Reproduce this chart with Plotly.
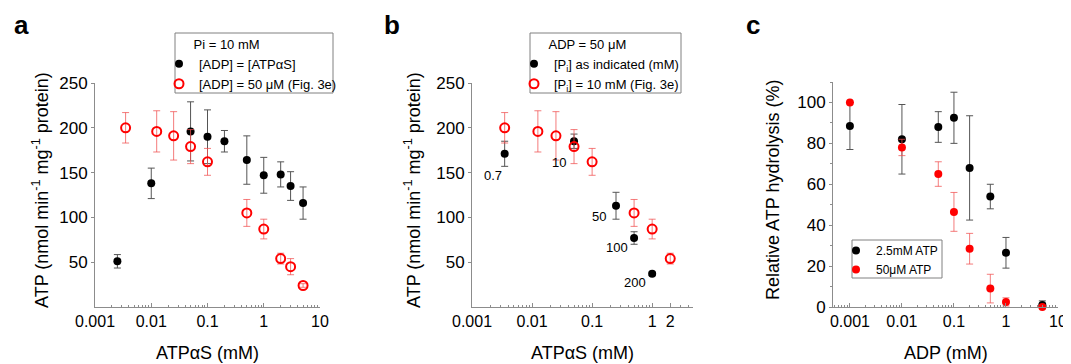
import numpy as np
import plotly.graph_objects as go

FONT = "Arial, Liberation Sans, sans-serif"

# ---------------- Panel a data ----------------
a_black_x = [0.0025, 0.01, 0.05, 0.1, 0.2, 0.5, 1, 2, 3, 5]
a_black_y = [51, 138, 196, 190, 185, 164, 147, 148, 135, 116]
a_black_err = [7.5, 17, 33, 30, 12, 27, 20, 14, 16, 18]

a_red_x = [0.0035, 0.0125, 0.025, 0.05, 0.1, 0.5, 1, 2, 3, 5]
a_red_y = [200, 196, 191, 179, 162, 105, 87, 54, 45, 24]
a_red_err = [17, 23, 27, 19, 15, 15, 11, 6, 9, 2]

# ---------------- Panel b data ----------------
b_black_x = [0.0035, 0.05, 0.25, 0.5, 1]
b_black_y = [171, 185, 113, 77, 37]
b_black_err = [14, 8, 15, 7, 2]
b_black_labels = ["0.7", "10", "50", "100", "200"]

b_red_x = [0.0035, 0.0125, 0.025, 0.05, 0.1, 0.5, 1, 2]
b_red_y = [200, 196, 191, 179, 162, 105, 87, 54]
b_red_err = [17, 23, 27, 19, 15, 15, 11, 6]

# ---------------- Panel c data ----------------
c_x = [0.001, 0.01, 0.05, 0.1, 0.2, 0.5, 1, 5]
c_black_y = [88.5, 82, 88, 92.5, 68, 54, 26.5, 1]
c_black_err = [11.5, 17, 7.5, 12.5, 25.5, 6, 7.5, 2]
c_red_y = [100, 78, 65, 46.5, 28.5, 9, 2.5, 0]
c_red_err = [0, 4, 6, 9.5, 7.5, 7, 2, 0]

a_ticks = [0.001, 0.01, 0.1, 1, 10]
a_ticktext = ["0.001", "0.01", "0.1", "1", "10"]
b_ticks = [0.001, 0.01, 0.1, 1, 2]
b_ticktext = ["0.001", "0.01", "0.1", "1", "2"]
c_ticks = [0.001, 0.01, 0.1, 1, 10]
c_ticktext = ["0.001", "0.01", "0.1", "1", "10"]

BLACK_ERR = "#555555"
RED_ERR = "rgba(240,80,80,0.75)"
AXCOL = "#8c8c8c"
BOXCOL = "#808080"

# page has an 8px body margin; figure spans page pixels 8..1071 and 8..364
OFF = 8
W, H = 1063, 356


def P(X):
    return (X - OFF) / W


def Q(Y):
    return 1 - (Y - OFF) / H


minor_vals = [m * 10.0 ** e for e in range(-4, 2) for m in range(2, 10)]

fig = go.Figure()


def add_pts(x, y, err, xa, ya, color, errcol, open_=False, name="", legend="legend",
            clip=True):
    marker = dict(size=8, color=color)
    if open_:
        marker = dict(size=9, color=color, symbol="circle-open", line=dict(width=2, color=color))
    fig.add_trace(go.Scatter(
        x=x, y=y, mode="markers", xaxis=xa, yaxis=ya, name=name, legend=legend,
        showlegend=True, marker=marker, cliponaxis=clip,
        error_y=dict(type="data", array=err, visible=True, color=errcol,
                     thickness=1, width=3.5),
    ))


# panel a
add_pts(a_black_x, a_black_y, a_black_err, "x", "y", "black", BLACK_ERR,
        name="[ADP] = [ATPαS]", legend="legend")
add_pts(a_red_x, a_red_y, a_red_err, "x", "y", "red", RED_ERR, open_=True,
        name="[ADP] = 50 μM (Fig. 3e)", legend="legend")
# panel b
add_pts(b_black_x, b_black_y, b_black_err, "x2", "y2", "black", BLACK_ERR,
        name="[P<sub>i</sub>] as indicated (mM)", legend="legend2")
add_pts(b_red_x, b_red_y, b_red_err, "x2", "y2", "red", RED_ERR, open_=True,
        name="[P<sub>i</sub>] = 10 mM (Fig. 3e)", legend="legend2")
# panel c
add_pts(c_x, c_black_y, c_black_err, "x3", "y3", "black", BLACK_ERR,
        name="2.5mM ATP", legend="legend3", clip=False)
add_pts(c_x, c_red_y, c_red_err, "x3", "y3", "red", RED_ERR,
        name="50μM ATP", legend="legend3", clip=False)


def xax(domain, rng, tv, tt, anchor):
    return dict(
        type="log", domain=domain, range=rng, anchor=anchor,
        tickmode="array", tickvals=tv, ticktext=tt,
        ticks="inside", ticklen=4, tickcolor=AXCOL,
        showline=True, linecolor=AXCOL, linewidth=1,
        showgrid=False, zeroline=False,
        tickfont=dict(family=FONT, size=16, color="black"),
        minor=dict(tickmode="array", tickvals=minor_vals, ticks="inside",
                   ticklen=2, tickcolor=AXCOL, showgrid=False),
        automargin=False,
    )


def yax(domain, rng, tv, anchor, minor=None):
    d = dict(
        domain=domain, range=rng, anchor=anchor,
        tickmode="array", tickvals=tv,
        ticks="outside", ticklen=3, tickcolor=AXCOL,
        showline=True, linecolor=AXCOL, linewidth=1,
        showgrid=False, zeroline=False,
        tickfont=dict(family=FONT, size=17, color="black"),
        automargin=False,
    )
    if minor:
        d["minor"] = minor
    return d


legend_common = dict(
    bgcolor="rgba(0,0,0,0)", borderwidth=0,
    font=dict(family=FONT, size=13, color="black"),
    xanchor="left", yanchor="top", itemwidth=30, tracegroupgap=0,
)

fig.update_layout(
    width=W, height=H,
    margin=dict(l=0, r=0, t=0, b=0),
    paper_bgcolor="white", plot_bgcolor="white",
    font=dict(family=FONT, color="black"),
    xaxis=xax([P(95), P(320)], [-3, 1], a_ticks, a_ticktext, "y"),
    yaxis=yax([Q(307), Q(83)], [0, 250], [50, 100, 150, 200, 250], "x"),
    xaxis2=xax([P(472), P(693)], [-3, 0.68], b_ticks, b_ticktext, "y2"),
    yaxis2=yax([Q(307), Q(83)], [0, 250], [50, 100, 150, 200, 250], "x2"),
    xaxis3=xax([P(833), P(1058)], [-3.325, 1], c_ticks, c_ticktext, "y3"),
    yaxis3=yax([Q(307), Q(82)], [0, 110], [0, 20, 40, 60, 80, 100], "x3",
               minor=dict(dtick=10, ticks="outside", ticklen=2, tickcolor=AXCOL)),
    legend=dict(legend_common, x=P(159), y=Q(32),
                title=dict(text="&nbsp;&nbsp;&nbsp;&nbsp;&nbsp;&nbsp;&nbsp;&nbsp;&nbsp;Pi = 10 mM",
                           font=dict(family=FONT, size=13))),
    legend2=dict(legend_common, x=P(514), y=Q(32),
                 title=dict(text="&nbsp;&nbsp;&nbsp;&nbsp;&nbsp;&nbsp;&nbsp;&nbsp;&nbsp;ADP = 50 μM",
                            font=dict(family=FONT, size=13))),
    legend3=dict(legend_common, x=P(836), y=Q(236),
                 font=dict(family=FONT, size=12, color="black")),
    showlegend=True,
)

# legend frames
for x0, x1, y0, y1 in [(175, 333, 33, 93), (530, 681, 33, 93), (852, 942, 240, 278)]:
    fig.add_shape(type="rect", xref="paper", yref="paper",
                  x0=P(x0), x1=P(x1), y0=Q(y1), y1=Q(y0),
                  line=dict(color=BOXCOL, width=1), fillcolor="rgba(0,0,0,0)")

# Panel letters
for txt, px, py in [("a", 21, 25), ("b", 392, 25), ("c", 753, 25)]:
    fig.add_annotation(text=f"<b>{txt}</b>", x=P(px), y=Q(py),
                       xref="paper", yref="paper", showarrow=False,
                       xanchor="center", yanchor="middle",
                       font=dict(family=FONT, size=26, color="black"))

# Axis titles
for xa, txt in [("x", "ATPαS (mM)"), ("x2", "ATPαS (mM)"), ("x3", "ADP (mM)")]:
    fig.add_annotation(text=txt, x=0.5, y=Q(353), xref=f"{xa} domain",
                       yref="paper", showarrow=False,
                       xanchor="center", yanchor="middle",
                       font=dict(family=FONT, size=18, color="black"))

ytitle = "ATP (nmol min<sup>-1</sup> mg<sup>-1</sup> protein)"
for px, txt in [(40, ytitle), (412, ytitle), (773, "Relative ATP hydrolysis (%)")]:
    fig.add_annotation(text=txt, x=P(px), y=Q(190), xref="paper",
                       yref="paper", showarrow=False, textangle=-90,
                       xanchor="center", yanchor="middle",
                       font=dict(family=FONT, size=18, color="black"))

# Pi concentration labels for panel b
b_shifts = [(-12, -22), (-15, -21), (-17, -11), (-17, -9), (-17, -9)]
for xv, yv, lab, (dx, dy) in zip(b_black_x, b_black_y, b_black_labels, b_shifts):
    fig.add_annotation(text=lab, x=np.log10(xv), y=yv, xref="x2", yref="y2",
                       showarrow=False, xshift=dx, yshift=dy,
                       xanchor="center", yanchor="middle",
                       font=dict(family=FONT, size=13, color="black"))

fig.write_html("out.html")
